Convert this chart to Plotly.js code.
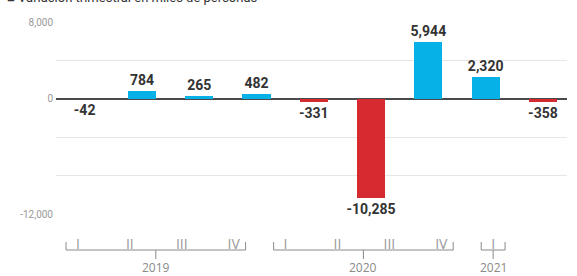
<!DOCTYPE html>
<html>
<head>
<meta charset="utf-8">
<script src="https://cdn.plot.ly/plotly-3.0.1.min.js"></script>
<style>html,body{margin:0;padding:0;background:#fff;}#chart{width:577px;height:276px;}</style>
</head>
<body>
<div id="chart"></div>
<script>
const quarters = ['I','II','III','IV','I','II','III','IV','I'];
const years = ['2019','2019','2019','2019','2020','2020','2020','2020','2021'];
const values = [-42, 784, 265, 482, -331, -10285, 5944, 2320, -358];
const yTickVals = [8000, 4000, 0, -4000, -8000, -12000];
const yTickText = ['8,000', '', '0', '', '', '-12,000'];
const titleText = '\u25A0 Variación trimestral en miles de personas';

const idx = values.map((v, i) => i);
const colors = values.map(v => v >= 0 ? '#06b1e8' : '#d62a31');
const labels = values.map(v => v.toLocaleString('en-US'));

const groups = [];
years.forEach((y, i) => {
  const g = groups.find(o => o.year === y);
  if (g) g.last = i; else groups.push({year: y, first: i, last: i});
});

const pTop = 22, pBot = 214, H = pBot - pTop;
const py = p => (pBot - p) / H;

const shapes = [];
const annotations = [];
const ext = 0.23;
groups.forEach(g => {
  const x0 = g.first - ext, x1 = g.last + ext, xm = (g.first + g.last) / 2;
  const lc = {color: '#8a8a8a', width: 1};
  shapes.push({type: 'line', xref: 'x2', yref: 'paper', x0: x0, x1: x1, y0: py(250), y1: py(250), line: lc});
  shapes.push({type: 'line', xref: 'x2', yref: 'paper', x0: x0, x1: x0, y0: py(242), y1: py(250), line: lc});
  shapes.push({type: 'line', xref: 'x2', yref: 'paper', x0: x1, x1: x1, y0: py(242), y1: py(250), line: lc});
  shapes.push({type: 'line', xref: 'x2', yref: 'paper', x0: xm, x1: xm, y0: py(250), y1: py(259), line: lc});
  annotations.push({xref: 'x2', yref: 'paper', x: xm, y: py(267.5), text: g.year, showarrow: false,
    xanchor: 'center', yanchor: 'middle', font: {family: 'Open Sans, sans-serif', size: 12, color: '#8a8a8a'}});
});
annotations.push({xref: 'paper', yref: 'paper', x: (5 - 56) / 512, y: py(-3), text: titleText, showarrow: false,
  xanchor: 'left', yanchor: 'middle', font: {family: 'Roboto, sans-serif', size: 13, color: '#333'}});

const traces = [
  {type: 'bar', x: idx, y: values, marker: {color: colors}, width: 0.49,
   text: labels, textposition: 'outside', cliponaxis: false, constraintext: 'none',
   textfont: {family: 'Roboto, sans-serif', size: 14, color: '#333', weight: 'bold'},
   hoverinfo: 'skip', showlegend: false},
  {type: 'scatter', x: idx, y: idx.map(() => null), xaxis: 'x2', yaxis: 'y', mode: 'markers',
   hoverinfo: 'skip', showlegend: false}
];

const layout = {
  width: 577, height: 276,
  margin: {l: 56, r: 10, t: pTop, b: 276 - pBot},
  paper_bgcolor: '#fff', plot_bgcolor: '#fff',
  showlegend: false,
  bargap: 0,
  xaxis: {range: [-0.5, 8.42], showticklabels: false, showgrid: false, zeroline: false, showline: false, ticks: '', fixedrange: true},
  xaxis2: {overlaying: 'x', anchor: 'y', side: 'bottom', range: [-0.423, 9.423],
    tickmode: 'array', tickvals: idx, ticktext: quarters, showgrid: false, zeroline: false, showline: false,
    ticks: 'outside', ticklen: 17, tickcolor: 'rgba(0,0,0,0)',
    tickfont: {family: 'Open Sans, sans-serif', size: 14, color: '#9a9a9a'}},
  yaxis: {range: [-12000, 8000], tickmode: 'array', tickvals: yTickVals, ticktext: yTickText,
    showgrid: true, gridcolor: '#e6e6e6', gridwidth: 1,
    zeroline: true, zerolinecolor: '#4a4a4a', zerolinewidth: 2,
    ticks: '', ticklabelstandoff: 2,
    tickfont: {family: 'Roboto, sans-serif', size: 10, color: '#999'}},
  shapes: shapes,
  annotations: annotations
};

Plotly.newPlot('chart', traces, layout, {displayModeBar: false, staticPlot: true});
</script>
</body>
</html>
